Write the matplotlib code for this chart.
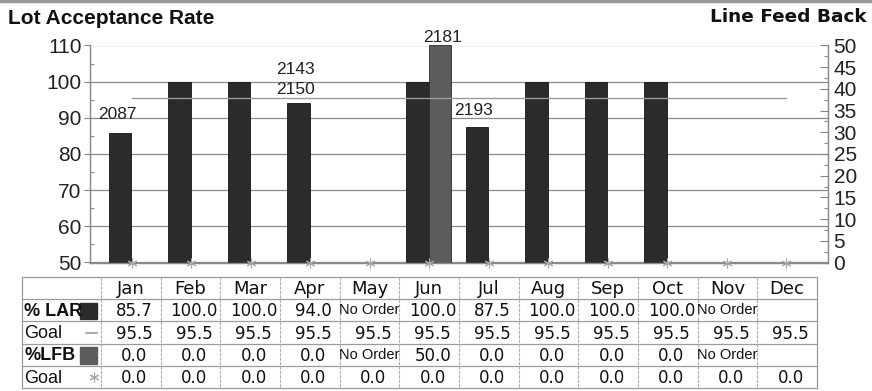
import numpy as np
import matplotlib
matplotlib.use("Agg")
import matplotlib.pyplot as plt
from matplotlib.lines import Line2D
from matplotlib.patches import Rectangle
from matplotlib.ticker import MultipleLocator

plt.rcParams['font.family'] = ['Liberation Sans', 'DejaVu Sans']

months = ['Jan', 'Feb', 'Mar', 'Apr', 'May', 'Jun',
          'Jul', 'Aug', 'Sep', 'Oct', 'Nov', 'Dec']
# None = no order that month
lar = [85.7, 100.0, 100.0, 94.0, None, 100.0, 87.5, 100.0, 100.0, 100.0, None, None]
lar_goal = [95.5] * 12
lfb = [0.0, 0.0, 0.0, 0.0, None, 50.0, 0.0, 0.0, 0.0, 0.0, None, None]
lfb_goal = [0.0] * 12

# lot numbers written over the bars: (month index, series, lot)
lot_month = [0, 3, 3, 5, 6]
lot_series = ['lar', 'lar', 'lar', 'lfb', 'lar']
lot_number = ['2087', '2150', '2143', '2181', '2193']
lot_lift = [11, 6, 26, 0, 9]   # px above the bar top

W, H = 872, 391
fig = plt.figure(figsize=(W / 100, H / 100), dpi=100)

ax = fig.add_axes([90 / W, 1 - 262.5 / H, 738 / W, 217 / H])
ax2 = ax.twinx()

x = np.arange(len(months))
bw = 0.38
lar_v = np.array([np.nan if v is None else v for v in lar])
lfb_v = np.array([np.nan if v is None else v for v in lfb])

ax.bar(x, lar_v - 50, bottom=50, width=bw, color='#2b2b2b',
       edgecolor='#151515', linewidth=0.6, zorder=2)
lfb_bars = ax2.bar(x + bw, lfb_v, width=bw, color='#5c5c5c',
                   edgecolor='#2a2a2a', linewidth=0.6, zorder=2)
for b, v in zip(lfb_bars, lfb_v):
    if not v > 0:
        b.set_linewidth(0)

ax2.plot(x + 0.2, lar_goal, color='#9a9a9a', lw=1.0, zorder=4,
         transform=ax.transData)
ax2.plot(x + 0.2, lfb_goal, ls='none', marker=(6, 2, 0), ms=7,
         mew=0.8, color='#a8a8a8', clip_on=False, zorder=5)

# axes ranges and ticks
ax.set_xlim(-0.504, 11.9)
ax.set_ylim(50, 110)
ax2.set_ylim(0, 50)
ax.set_xticks([])
ax.yaxis.set_major_locator(MultipleLocator(10))
ax.yaxis.set_minor_locator(MultipleLocator(5))
ax2.yaxis.set_major_locator(MultipleLocator(5))
ax2.yaxis.set_minor_locator(MultipleLocator(2.5))
ax.tick_params(axis='y', which='major', direction='out', length=4,
               width=0.8, color='#888888', labelsize=15, pad=2,
               labelcolor='#222222')
ax.tick_params(axis='y', which='minor', direction='in', length=3,
               width=0.8, color='#888888')
ax2.tick_params(axis='y', which='major', direction='in', length=6,
                width=0.8, color='#888888', labelsize=15, pad=4,
                labelcolor='#222222')
ax2.tick_params(axis='y', which='minor', direction='in', length=3,
                width=0.8, color='#888888')
ax.grid(axis='y', color='#8a8a8a', lw=0.9, zorder=1)
ax.set_axisbelow(True)
for a in (ax, ax2):
    a.spines['top'].set_visible(False)
    for s in ('left', 'right', 'bottom'):
        a.spines[s].set_color('#8a8a8a')
        a.spines[s].set_linewidth(0.9)

# lot labels
for m, s, lot, lift in zip(lot_month, lot_series, lot_number, lot_lift):
    if s == 'lar':
        xy, tr, dx = (m, lar_v[m]), ax.transData, -3
    else:
        xy, tr, dx = (m + bw, lfb_v[m]), ax2.transData, 2
    ax2.annotate(lot, xy=xy, xycoords=tr, xytext=(dx * 0.72, lift * 0.72),
                 textcoords='offset points', ha='center', va='bottom',
                 fontsize=12.5, color='#222222', zorder=6, annotation_clip=False)

# titles
fig.text(8 / W, 1 - 18 / H, 'Lot Acceptance Rate', fontsize=15,
         weight='bold', va='center', ha='left', color='#111111')
fig.text(867 / W, 1 - 17 / H, 'Line Feed Back', fontsize=13.3,
         weight='bold', va='center', ha='right', color='#111111',
         family='DejaVu Sans')
fig.add_artist(Line2D([0, 1], [1 - 1 / H, 1 - 1 / H], color='#9a9a9a',
                      lw=2.5, transform=fig.transFigure))

# data table under the chart
first_w = 79 / 59.67
tab = fig.add_axes([22 / W, 1 - 388 / H, 795 / W, 111 / H])
tab.set_xlim(-first_w, 12)
tab.set_ylim(5, 0)
tab.axis('off')

for r in range(6):
    tab.plot([-first_w, 12], [r, r], color='#9c9c9c', lw=0.9, clip_on=False)
tab.plot([-first_w, -first_w], [0, 5], color='#9c9c9c', lw=0.9, clip_on=False)
tab.plot([12, 12], [0, 5], color='#9c9c9c', lw=0.9, clip_on=False)
for c in range(12):
    tab.plot([c, c], [0, 5], color='#b0b0b0', lw=0.8, ls=(0, (3, 1)),
             clip_on=False)

row_names = ['% LAR', 'Goal', '%LFB', 'Goal']
row_bold = [True, False, True, False]
rows = [lar, lar_goal, lfb, lfb_goal]
no_order = [True, False, True, False]

for c, m in enumerate(months):
    tab.text(c + 0.5, 0.55, m, ha='center', va='center', fontsize=13,
             color='#111111', family='DejaVu Sans')

for r, (name, bold, vals, no) in enumerate(zip(row_names, row_bold, rows, no_order)):
    yc = r + 1.55
    tab.text(-first_w + 0.04, yc, name, ha='left', va='center',
             fontsize=13, weight='bold' if bold else 'normal', color='#111111')
    for c, v in enumerate(vals):
        if v is None:
            # only the first missing month in a run is marked as no order
            if no and (c == 0 or vals[c - 1] is not None):
                tab.text(c + 0.5, yc - 0.05, 'No Order', ha='center',
                         va='center', fontsize=10.5, color='#111111')
            continue
        tab.text(c + 0.56, yc, f'{v:.1f}', ha='center', va='center',
                 fontsize=12, color='#111111', family='DejaVu Sans')

# series keys in the first column
tab.add_patch(Rectangle((-0.352, 1.15), 0.285, 0.75, color='#2b2b2b'))
tab.plot([-0.25, -0.07], [2.5, 2.5], color='#9a9a9a', lw=1.2)
tab.add_patch(Rectangle((-0.352, 3.15), 0.285, 0.75, color='#5c5c5c'))
tab.plot([-0.12], [4.5], ls='none', marker=(6, 2, 0), ms=7, mew=0.8,
         color='#a8a8a8')

fig.savefig('out.png', dpi=100)
